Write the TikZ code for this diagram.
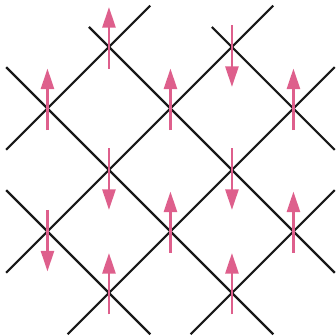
\documentclass[tikz,border=0pt]{standalone}
\usepackage{tikz}
\usepackage{xcolor}
\definecolor{SpinPink}{HTML}{DE5F8C}
\usetikzlibrary{arrows.meta, calc}

\begin{document}
\begin{tikzpicture}[x=1cm, y=1cm,
        bond/.style={black!90, line width=1pt},
        spin/.style={SpinPink, line width=1.2pt, -{Triangle[length=9.5pt, width=6pt]}}]
    \useasboundingbox (-0.772,-0.70) rectangle (4.691,4.764);

    % lattice sites
    \foreach \i in {0,...,4}
        \foreach \j in {0,...,4}
            \coordinate (v-\i-\j) at (\i,\j);

    % bonds going down to the right
    \draw[bond, shorten <=-0.46cm, shorten >=-0.95cm] (v-1-4) -- (v-4-1);
    \draw[bond, shorten <=-0.95cm, shorten >=-0.95cm] (v-0-3) -- (v-3-0);
    \draw[bond, shorten <=-0.46cm, shorten >=-0.95cm] (v-3-4) -- (v-4-3);
    \draw[bond, shorten <=-0.95cm, shorten >=-0.95cm] (v-0-1) -- (v-1-0);

    % bonds going up to the right
    \draw[bond, shorten <=-0.95cm, shorten >=-0.95cm] (v-0-3) -- (v-1-4);
    \draw[bond, shorten <=-0.95cm, shorten >=-0.95cm] (v-0-1) -- (v-3-4);
    \draw[bond, shorten <=-0.95cm, shorten >=-0.95cm] (v-1-0) -- (v-4-3);
    \draw[bond, shorten <=-0.95cm, shorten >=-0.95cm] (v-3-0) -- (v-4-1);

    % spins up
    \foreach \s in {1-4, 0-3, 2-3, 4-3, 2-1, 4-1, 1-0, 3-0}
        \draw[spin] ($(v-\s)+(0,-0.35)$) -- ++(0,1);
    % spins down
    \foreach \s in {3-4, 1-2, 3-2, 0-1}
        \draw[spin] ($(v-\s)+(0,0.35)$) -- ++(0,-1);
\end{tikzpicture}
\end{document}
